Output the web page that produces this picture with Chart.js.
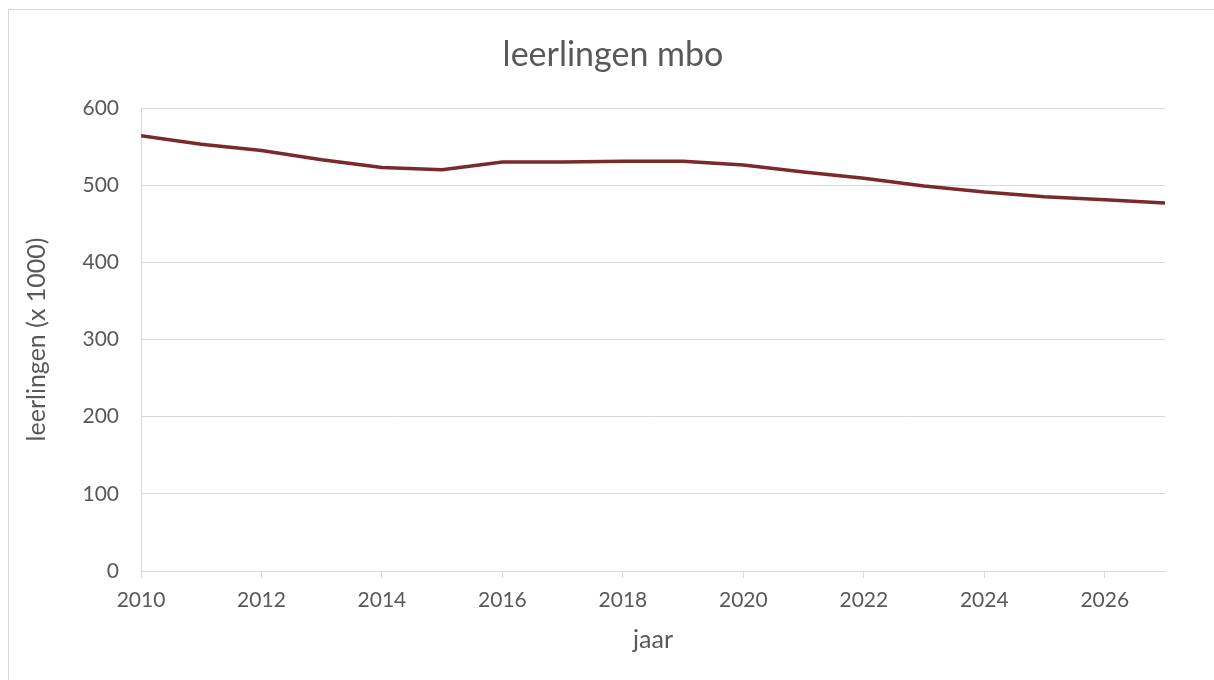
<!DOCTYPE html>
<html>
<head>
<meta charset="utf-8">
<script src="https://cdn.jsdelivr.net/npm/chart.js@4.4.1/dist/chart.umd.min.js"></script>
<style>
  html, body { margin: 0; padding: 0; background: #fff; overflow: hidden; }
  #wrap { position: relative; width: 1214px; height: 680px; }
  #frame {
    position: absolute; left: 8px; top: 9px; width: 1220px; height: 690px;
    border-top: 1px solid #d9d9d9; border-left: 1px solid #d9d9d9; pointer-events: none;
  }
  canvas { position: absolute; left: 0; top: 0; }
</style>
</head>
<body>
<div id="wrap">
  <canvas id="chart" width="1214" height="680"></canvas>
  <div id="frame"></div>
</div>
<script>
// leerlingen mbo (x 1000) per jaar, incl. prognose
const years = [2010, 2011, 2012, 2013, 2014, 2015, 2016, 2017, 2018,
               2019, 2020, 2021, 2022, 2023, 2024, 2025, 2026, 2027];
const students = [564, 553, 545, 533, 523, 520, 530, 530, 531,
                  531, 526, 517, 509, 499, 491, 485, 481, 477];
const xTicks = [2010, 2012, 2014, 2016, 2018, 2020, 2022, 2024, 2026];
const yTicks = [0, 100, 200, 300, 400, 500, 600];

const FONT = 'Lato, "Open Sans", sans-serif';
const TEXT = '#595959';
const GRID = '#d9d9d9';

// title is drawn at a fixed spot above the plot
const titlePlugin = {
  id: 'fixedTitle',
  afterDraw(chart) {
    const ctx = chart.ctx;
    ctx.save();
    ctx.font = '34px ' + FONT;
    ctx.fillStyle = TEXT;
    ctx.textAlign = 'center';
    ctx.textBaseline = 'middle';
    ctx.fillText('leerlingen mbo', 613, 55);
    ctx.restore();
  }
};

new Chart(document.getElementById('chart'), {
  type: 'line',
  data: {
    datasets: [{
      data: years.map((y, i) => ({ x: y, y: students[i] })),
      borderColor: '#7b2a2a',
      borderWidth: 3.5,
      pointRadius: 0,
      tension: 0,
      fill: false
    }]
  },
  options: {
    responsive: false,
    animation: false,
    layout: { padding: { top: 108, right: 49, left: 0, bottom: 0 } },
    plugins: { legend: { display: false }, tooltip: { enabled: false } },
    scales: {
      x: {
        type: 'linear',
        min: years[0],
        max: years[years.length - 1],
        afterFit: s => { s.height = 109; },
        afterBuildTicks: s => { s.ticks = xTicks.map(v => ({ value: v })); },
        grid: { drawOnChartArea: false, drawTicks: true, tickLength: 7, tickColor: GRID },
        border: { color: GRID, width: 1 },
        ticks: {
          padding: 10,
          color: TEXT,
          font: { family: FONT, size: 21 },
          callback: v => String(v),
          maxRotation: 0,
          autoSkip: false
        },
        title: {
          display: true,
          text: 'jaar',
          color: TEXT,
          font: { family: FONT, size: 25 },
          padding: { top: 0, bottom: 25 }
        }
      },
      y: {
        min: yTicks[0],
        max: yTicks[yTicks.length - 1],
        afterFit: s => { s.width = 141; },
        afterBuildTicks: s => { s.ticks = yTicks.map(v => ({ value: v })); },
        grid: { color: GRID, lineWidth: 1, drawTicks: false },
        border: { color: GRID, width: 1 },
        ticks: {
          padding: 22,
          color: TEXT,
          font: { family: FONT, size: 21 }
        },
        title: {
          display: true,
          text: 'leerlingen (x 1000)',
          color: TEXT,
          font: { family: FONT, size: 25 },
          padding: { top: 22, bottom: 0 }
        }
      }
    }
  },
  plugins: [titlePlugin]
});
</script>
</body>
</html>
